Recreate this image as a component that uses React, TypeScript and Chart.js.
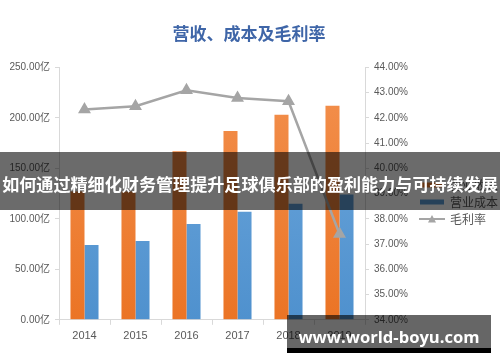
import React, { useEffect, useRef } from 'react';
import { Chart, registerables } from 'chart.js';

Chart.register(...registerables);

const categories = ['2014', '2015', '2016', '2017', '2018', '2019'];
const revenue = [127, 127, 167, 187, 203, 212];
const cost = [74, 78, 95, 107, 115, 124];
const grossMargin = [42.33, 42.46, 43.09, 42.79, 42.66, 37.4];
const seriesNames = ['营业收入', '营业成本', '毛利率'];
const titleText = '营收、成本及毛利率';
const bannerText = '如何通过精细化财务管理提升足球俱乐部的盈利能力与可持续发展';
const watermarkText = 'www.world-boyu.com';

const ORANGE = '#ED7D31';
const BLUE = '#5B9BD5';
const GRAY = '#A5A5A5';
const FONT = '"Liberation Sans", "Noto Sans CJK SC", sans-serif';
const CJK = '"Noto Sans CJK SC", sans-serif';

export default function App() {
  const ref = useRef<HTMLCanvasElement | null>(null);

  useEffect(() => {
    const canvas = ref.current;
    if (!canvas) return;

    const legendLine = document.createElement('canvas');
    legendLine.width = 26;
    legendLine.height = 10;
    const lc = legendLine.getContext('2d')!;
    lc.strokeStyle = GRAY;
    lc.lineWidth = 2;
    lc.beginPath();
    lc.moveTo(0, 5);
    lc.lineTo(26, 5);
    lc.stroke();
    lc.fillStyle = GRAY;
    lc.beginPath();
    lc.moveTo(13, 1);
    lc.lineTo(17, 8.5);
    lc.lineTo(9, 8.5);
    lc.closePath();
    lc.fill();

    const grad = (top: string, bottom: string) => (ctx: any) => {
      const chart = ctx.chart;
      const a = chart.chartArea;
      if (!a) return bottom;
      const g = chart.ctx.createLinearGradient(0, a.top, 0, a.bottom);
      g.addColorStop(0, top);
      g.addColorStop(1, bottom);
      return g;
    };

    const legendShift = {
      id: 'legendShift',
      afterLayout(chart: any) {
        const l = chart.legend;
        if (l) {
          l.top += 28;
          l.bottom += 28;
        }
      },
    };

    const chart = new Chart(canvas, {
      type: 'bar',
      data: {
        labels: categories,
        datasets: [
          {
            type: 'line',
            label: seriesNames[2],
            data: grossMargin,
            yAxisID: 'y1',
            borderColor: GRAY,
            backgroundColor: GRAY,
            borderWidth: 2.5,
            pointStyle: 'triangle',
            pointRadius: 5,
            pointBackgroundColor: GRAY,
            pointBorderColor: GRAY,
            order: 0,
          } as any,
          {
            type: 'bar',
            label: seriesNames[0],
            data: revenue,
            yAxisID: 'y',
            backgroundColor: grad('#F3914F', '#EB7425'),
            borderWidth: 0,
            order: 1,
            barPercentage: 1,
            categoryPercentage: 0.55,
          } as any,
          {
            type: 'bar',
            label: seriesNames[1],
            data: cost,
            yAxisID: 'y',
            backgroundColor: grad('#6FA8DC', '#4F91CE'),
            borderWidth: 0,
            order: 1,
            barPercentage: 1,
            categoryPercentage: 0.55,
          } as any,
        ],
      },
      options: {
        responsive: false,
        animation: false,
        layout: { padding: { left: 0, right: 2, top: 0, bottom: 14 } },
        plugins: {
          title: {
            display: true,
            text: titleText,
            color: '#3F66A8',
            font: { size: 17, weight: 'bold', family: CJK },
            padding: { top: 23, bottom: 24 },
          },
          legend: {
            position: 'right',
            align: 'center',
            labels: {
              usePointStyle: true,
              pointStyleWidth: 24,
              boxHeight: 5,
              padding: 5,
              color: '#595959',
              font: { size: 12, family: CJK },
              sort: (a: any, b: any) => {
                const ia = a.text === seriesNames[0] ? 0 : a.text === seriesNames[1] ? 1 : 2;
                const ib = b.text === seriesNames[0] ? 0 : b.text === seriesNames[1] ? 1 : 2;
                return ia - ib;
              },
              generateLabels: (ch: any) => {
                const base = Chart.defaults.plugins.legend.labels.generateLabels(ch);
                return base.map((it: any) => {
                  if (it.text === seriesNames[0]) return { ...it, fillStyle: ORANGE, pointStyle: 'rect', lineWidth: 0 };
                  if (it.text === seriesNames[1]) return { ...it, fillStyle: BLUE, pointStyle: 'rect', lineWidth: 0 };
                  return { ...it, pointStyle: legendLine, lineWidth: 0 };
                });
              },
            },
          },
          tooltip: { enabled: false },
        },
        scales: {
          x: {
            grid: { display: true, drawOnChartArea: false, drawTicks: true, tickLength: 5, color: '#D9D9D9', offset: true },
            border: { color: '#D9D9D9' },
            ticks: { color: '#595959', font: { size: 11, family: FONT }, padding: 5 },
          },
          y: {
            position: 'left',
            min: 0,
            max: 250,
            ticks: {
              stepSize: 50,
              color: '#595959',
              font: { size: 10, family: FONT },
              padding: 5,
              callback: (v: any) => Number(v).toFixed(2) + '亿',
            },
            grid: { drawOnChartArea: false, tickLength: 4, color: '#D9D9D9' },
            border: { color: '#D9D9D9' },
            afterFit: (s: any) => {
              s.width = 59;
            },
          },
          y1: {
            position: 'right',
            min: 34,
            max: 44,
            ticks: {
              stepSize: 1,
              color: '#595959',
              font: { size: 10, family: FONT },
              padding: 5,
              callback: (v: any) => Number(v).toFixed(2) + '%',
            },
            grid: { drawOnChartArea: false, tickLength: 4, color: '#D9D9D9' },
            border: { color: '#D9D9D9' },
            afterFit: (s: any) => {
              s.width = 50;
            },
          },
        },
      } as any,
      plugins: [legendShift],
    });

    return () => chart.destroy();
  }, []);

  return (
    <div style={{ position: 'fixed', left: 0, top: 0, width: 500, height: 362, background: '#fff', overflow: 'hidden' }}>
      <canvas ref={ref} width={500} height={362} style={{ display: 'block' }} />
      <div
        style={{
          position: 'absolute',
          left: 0,
          top: 152,
          width: 500,
          height: 58,
          background: 'rgba(0,0,0,0.58)',
          display: 'flex',
          alignItems: 'center',
          justifyContent: 'center',
        }}
      >
        <span
          style={{
            color: '#fff',
            fontFamily: CJK,
            fontWeight: 'bold',
            fontSize: 17.1,
            whiteSpace: 'nowrap',
            lineHeight: 1,
            marginTop: 5,
          }}
        >
          {bannerText}
        </span>
      </div>
      <div
        style={{
          position: 'absolute',
          left: 287,
          top: 315,
          width: 204,
          height: 33,
          background: 'rgba(0,0,0,0.6)',
          borderBottom: '5px solid #000',
          display: 'flex',
          alignItems: 'center',
          justifyContent: 'center',
        }}
      >
        <span
          style={{
            color: '#fff',
            fontFamily: '"Open Sans", "DejaVu Sans", sans-serif',
            fontWeight: 'bold',
            fontSize: 16.6,
            whiteSpace: 'nowrap',
            lineHeight: 1,
            marginTop: 12,
          }}
        >
          {watermarkText}
        </span>
      </div>
    </div>
  );
}
